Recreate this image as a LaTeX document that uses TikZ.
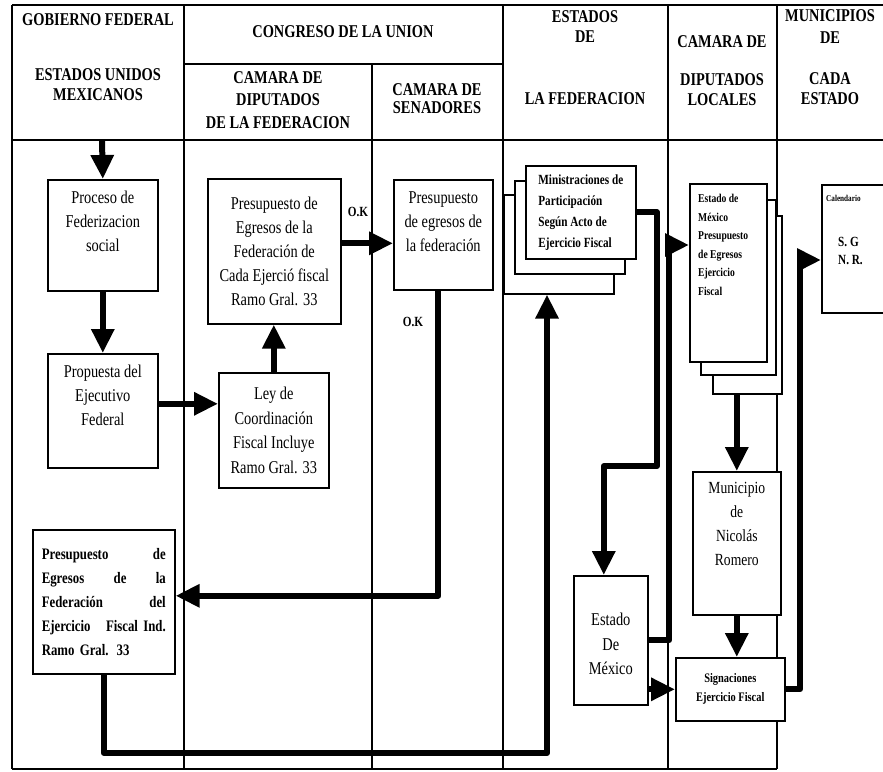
\documentclass[tikz,border=0pt]{standalone}
\usepackage{fontspec}
\setmainfont[FakeStretch=0.8]{Liberation Serif}
\usetikzlibrary{arrows.meta,positioning}
\newcommand{\hdrfnt}{\fontsize{18}{20}\selectfont\bfseries}
\newcommand{\boxfnt}{\fontsize{18}{24}\selectfont}
\tikzstyle{frame} = [line width=1.2pt]
\tikzstyle{block} = [rectangle, draw, line width=1.6pt, fill=white, anchor=north west, inner sep=0pt]
\tikzstyle{txt} = [inner sep=0pt, align=center, font=\boxfnt]
\tikzstyle{head} = [inner sep=0pt, align=center, font=\hdrfnt]
\tikzstyle{flow} = [draw, line width=6pt, line join=round, -{Triangle[length=24pt,width=22pt]}]

\begin{document}
\begin{tikzpicture}[x=1pt, y=-1pt]
    \useasboundingbox (0,0) rectangle (883,771);
    \fill[white] (0,0) rectangle (883,771);
    \clip (0,0) rectangle (883,771);
    % Table
    \draw[frame] (12,5) -- (883,5);
    \draw[frame] (12,140) -- (883,140);
    \draw[frame] (184,64) -- (503,64);
    \draw[frame] (12,769) -- (777,769);
    \foreach \x in {12,184,503,668,777}
        \draw[frame] (\x,5) -- (\x,769);
    \draw[frame] (372,64) -- (372,769);
    % Headers
    \node[head] (gob) at (98,20) {GOBIERNO FEDERAL};
    \node[head] (eum) at (98,85) {ESTADOS UNIDOS\\MEXICANOS};
    \node[head] (cong) at (343,32) {CONGRESO DE LA UNION};
    \node[head, font=\fontsize{18}{22.5}\selectfont\bfseries] (cdf) at (278,100) {CAMARA DE\\DIPUTADOS\\DE LA FEDERACION};
    \node[head, font=\fontsize{18}{18}\selectfont\bfseries] (csen) at (437,99) {CAMARA DE\\SENADORES};
    \node[head] (edos) at (585,27) {ESTADOS\\DE};
    \node[head] (lafed) at (585,99) {LA FEDERACION};
    \node[head] (cdl) at (722,42) {CAMARA DE};
    \node[head] (diploc) at (722,90) {DIPUTADOS\\LOCALES};
    \node[head, font=\fontsize{18}{22}\selectfont\bfseries] (munic) at (830,27) {MUNICIPIOS\\DE};
    \node[head] (cada) at (830,89) {CADA\\ESTADO};
    % Blocks
    \node[block, minimum width=110pt, minimum height=111pt] (proceso) at (47,179) {};
    \node[txt, below=12pt of proceso.north] (proceso-t) {Proceso de\\Federizacion\\social};
    \node[block, minimum width=110pt, minimum height=114pt] (propuesta) at (47,353) {};
    \node[txt, below=11.5pt of propuesta.north] (propuesta-t) {Propuesta del\\Ejecutivo\\Federal};
    \node[block, minimum width=133pt, minimum height=145pt, font=\boxfnt, align=center] (presup) at (207,178)
        {Presupuesto de\\Egresos de la\\Federación de\\Cada Ejerció fiscal\\Ramo Gral. 33};
    \node[block, minimum width=110pt, minimum height=115pt, font=\fontsize{18}{24.6}\selectfont, align=center] (ley) at (218,372)
        {Ley de\\Coordinación\\Fiscal Incluye\\Ramo Gral. 33};
    \node[block, minimum width=99pt, minimum height=110pt] (senado) at (393,179) {};
    \node[txt, below=12.5pt of senado.north] (senado-t) {Presupuesto\\de egresos de\\la federación};
    \node[block, minimum width=142pt, minimum height=144pt, text width=124pt, align=left,
          font=\fontsize{16}{24}\selectfont\bfseries] (presupfed) at (32,529)
        {Presupuesto\hfill de\\Egresos\hfill de\hfill la\\Federación\hfill del\\Ejercicio\hfill Fiscal Ind.\\Ramo Gral. 33};
    \node[block, minimum width=110pt, minimum height=99pt] (minis3) at (503,194) {};
    \node[block, minimum width=110pt, minimum height=93pt] (minis2) at (514,180) {};
    \node[block, minimum width=110pt, minimum height=93pt, align=left,
          font=\fontsize{14}{21}\selectfont\bfseries] (minis1) at (525,165)
        {Ministraciones de\\Participación\\Según Acto de\\Ejercicio Fiscal};
    \node[block, minimum width=74pt, minimum height=129pt] (estado) at (573,575) {};
    \node[txt, font=\fontsize{18}{24.5}\selectfont, below=38pt of estado.north] (estado-t) {Estado\\De\\México};
    \node[block, minimum width=69pt, minimum height=178pt] (edo3) at (712,215) {};
    \node[block, minimum width=75pt, minimum height=175pt] (edo2) at (700,199) {};
    \node[block, minimum width=77pt, minimum height=178pt] (edo1) at (689,183) {};
    \node[txt, align=left, anchor=north west, font=\fontsize{12}{18.5}\selectfont\bfseries]
        (edo1-t) at ([xshift=9pt,yshift=-11pt]edo1.north west) {Estado de\\México\\Presupuesto\\de Egresos\\Ejercicio\\Fiscal};
    \node[block, minimum width=88pt, minimum height=143pt] (muni) at (692,471) {};
    \node[txt, font=\fontsize{17}{24}\selectfont, below=11pt of muni.north] (muni-t) {Municipio\\de\\Nicolás\\Romero};
    \node[block, minimum width=109pt, minimum height=63pt, align=center,
          font=\fontsize{13}{19}\selectfont\bfseries] (sign) at (675,657) {Signaciones\\Ejercicio Fiscal};
    \node[block, minimum width=100pt, minimum height=128pt] (cal) at (821,184) {};
    \node[txt, anchor=north west, font=\fontsize{9}{11}\selectfont\bfseries] (cal-t) at (826,195) {Calendario};
    \node[txt, align=left, anchor=north west, font=\fontsize{14}{18}\selectfont\bfseries] (sgnr) at (838,237) {S. G\\N. R.};
    \node[head, font=\fontsize{14}{16}\selectfont\bfseries] (ok1) at (358,212) {O.K};
    \node[head, font=\fontsize{14}{16}\selectfont\bfseries] (ok2) at (413,322) {O.K};
    % Lines
    \coordinate (top) at (102,140);
    \coordinate (ret) at (547,753);
    \coordinate (bendA) at (657,466);
    \coordinate (bendB) at (669,245);
    \coordinate (bendC) at (800,260);
    \path[flow] (top) -- (proceso.north);
    \path[flow] (proceso.south) -- (propuesta.north);
    \path[flow] ([yshift=7pt]propuesta.east) -- ([yshift=7pt]propuesta.east -| ley.west);
    \path[flow] (ley.north) -- (ley.north |- presup.south);
    \path[flow] ([yshift=8pt]presup.east) -- ([yshift=8pt]presup.east -| senado.west);
    \path[flow] ([xshift=-5pt]senado.south) |- ([yshift=6pt]presupfed.east);
    \path[flow] (presupfed.south) |- (ret) -- (ret |- minis3.south);
    \path[flow] (minis1.east) -| (bendA) -| ([xshift=-7pt]estado.north);
    \path[flow] (estado.east) -| (bendB) -- (bendB -| edo1.west);
    \path[flow] (sign.west -| estado.east) -- (sign.west);
    \path[flow] (muni.north |- edo3.south) -- (muni.north);
    \path[flow] (muni.south) -- (muni.south |- sign.north);
    \path[flow] (sign.east) -| (bendC) -- (bendC -| cal.west);
\end{tikzpicture}
\end{document}
